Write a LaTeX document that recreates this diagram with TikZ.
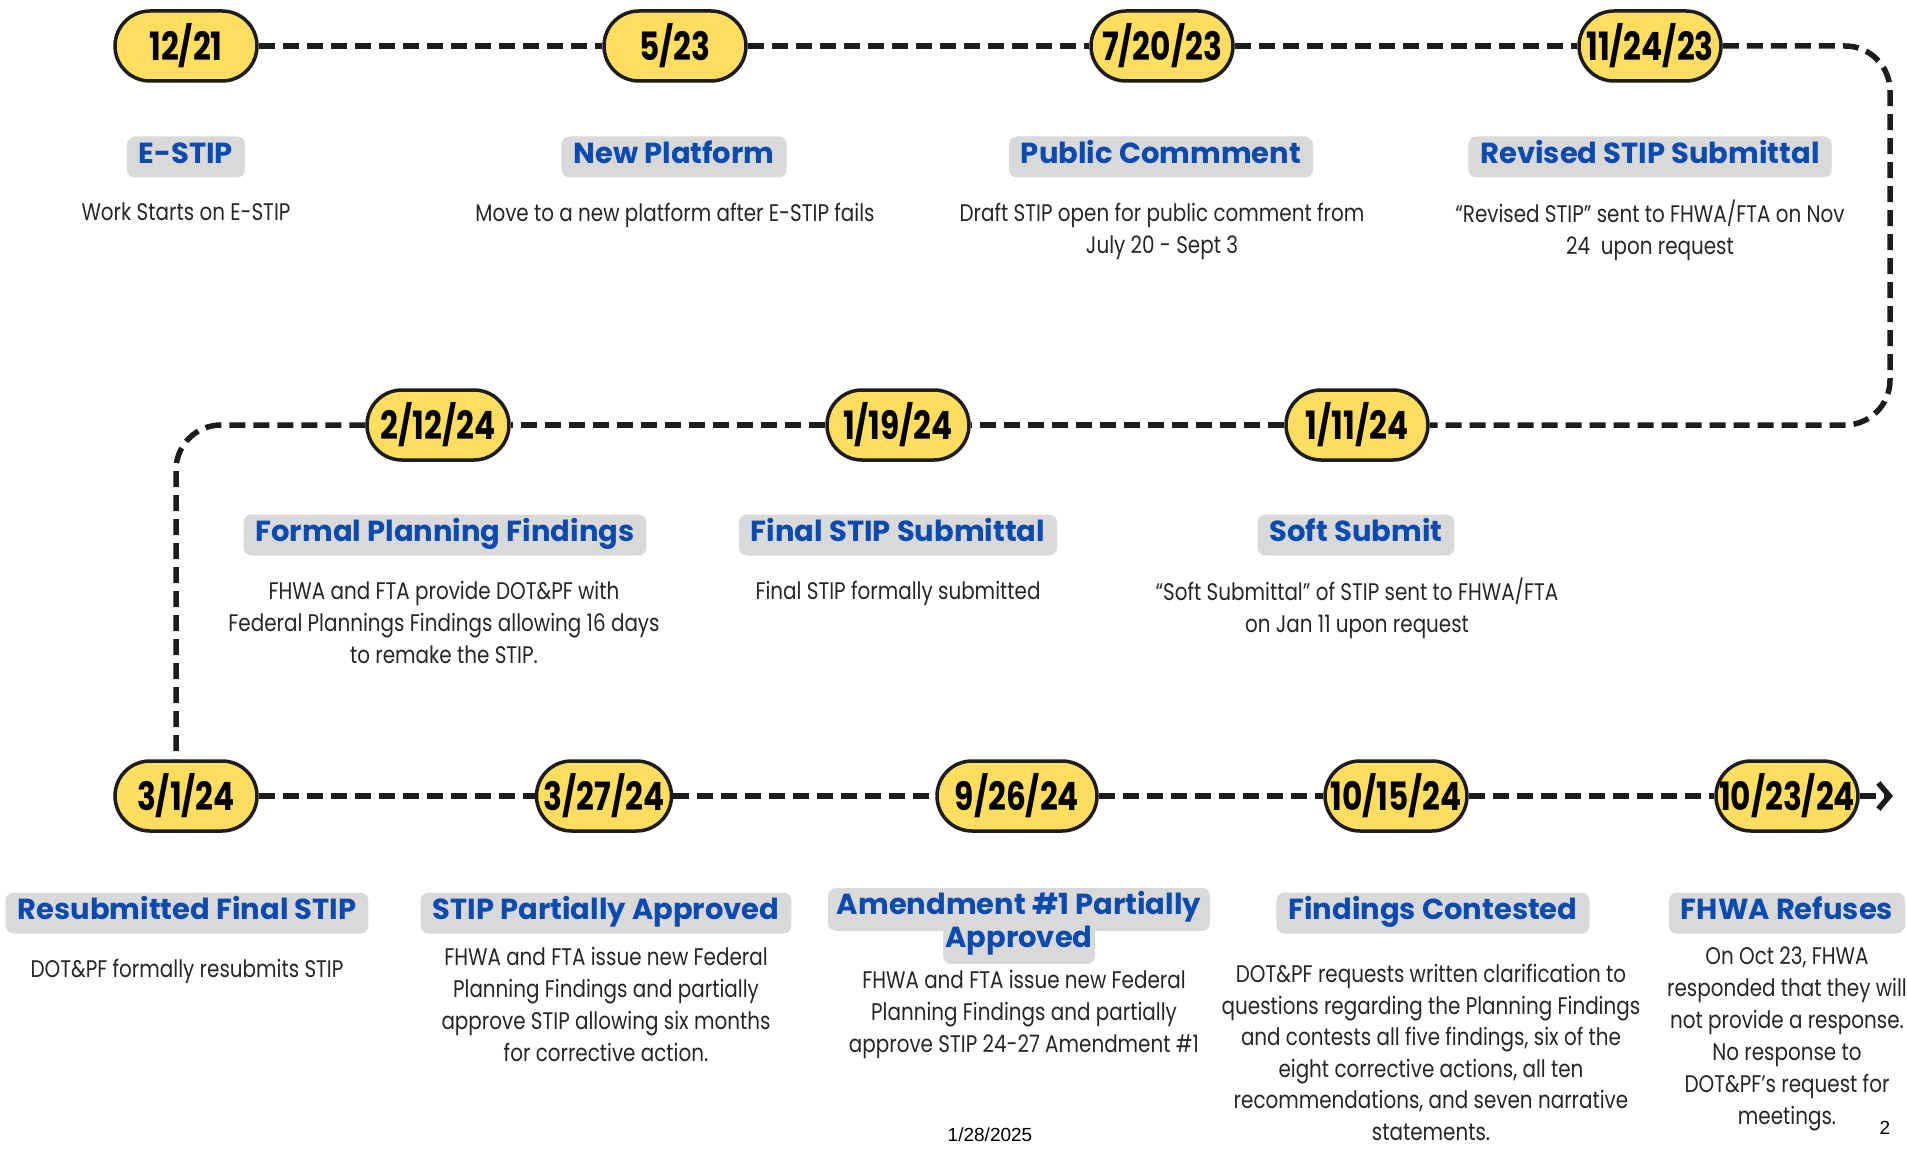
\documentclass[tikz,border=0pt]{standalone}
\usepackage{fontspec}
\usetikzlibrary{arrows.meta}
\newfontfamily\datefont[FakeStretch=0.8]{Poppins}
\newfontfamily\titlefont{Poppins}
\newfontfamily\bodyfont[FakeStretch=0.83]{Poppins}
\newfontfamily\footfont{Liberation Sans}
\definecolor{pillyellow}{HTML}{FFDD5E}
\definecolor{pillline}{HTML}{1C1C1C}
\definecolor{tagblue}{HTML}{0B4AAE}
\definecolor{taggray}{HTML}{D9D9D9}
\definecolor{bodytext}{HTML}{262626}
\tikzset{
  datepill/.style={draw=pillline, line width=3.5pt, fill=pillyellow,
    rounded corners=35pt, minimum width=142pt, minimum height=70pt,
    inner sep=0pt, text=black,
    font=\datefont\bfseries\fontsize{39}{42}\selectfont},
  tag/.style={fill=taggray, rounded corners=8pt, text=tagblue,
    font=\titlefont\bfseries\fontsize{29}{33}\selectfont,
    inner xsep=12pt, inner ysep=7pt, text height=20pt, text depth=7pt},
  desc/.style={anchor=north, align=center, text=bodytext, inner sep=0pt,
    font=\bodyfont\fontsize{24}{32}\selectfont},
  tline/.style={draw=pillline, line width=5.5pt, dash pattern=on 16pt off 8pt}
}
\begin{document}
\begin{tikzpicture}[x=1pt, y=-1pt]
\useasboundingbox[fill=white] (0,0) rectangle (1907,1150);

% date pills, row by row
\node[datepill] (d1) at (186,46) {12/21};
\node[datepill] (d2) at (675,46) {5/23};
\node[datepill] (d3) at (1162,46) {7/20/23};
\node[datepill] (d4) at (1650,46) {11/24/23};
\node[datepill] (d5) at (1357,425) {1/11/24};
\node[datepill] (d6) at (898,425) {1/19/24};
\node[datepill] (d7) at (438,425) {2/12/24};
\node[datepill] (d8) at (186,796) {3/1/24};
\node[datepill, minimum width=135pt] (d9) at (604,796) {3/27/24};
\node[datepill, minimum width=160pt] (d10) at (1017,796) {9/26/24};
\node[datepill] (d11) at (1396,796) {10/15/24};
\node[datepill] (d12) at (1787,796) {10/23/24};

% dashed timeline
\coordinate (rturn) at (1890,240);
\coordinate (tend) at (1893,796);
\draw[tline] (d1) -- (d2) -- (d3) -- (d4);
\draw[tline, rounded corners=45pt] (d4.east) -| (rturn) |- (d5.east);
\draw[tline] (d5) -- (d6) -- (d7);
\draw[tline, rounded corners=45pt] (d7.west) -| ([xshift=-10pt]d8.north);
\draw[tline] (d8) -- (d9) -- (d10) -- (d11) -- (d12);
\draw[tline, -{Straight Barb[length=11pt,width=26pt]}] (d12.east) -- (tend);

% event titles
\node[tag] (t1) at (186,157) {E-STIP};
\node[tag] (t2) at (674,157) {New Platform};
\node[tag] (t3) at (1161,157) {Public Commment};
\node[tag] (t4) at (1650,157) {Revised STIP Submittal};
\node[tag] (t5) at (1356,535) {Soft Submit};
\node[tag] (t6) at (898,535) {Final STIP Submittal};
\node[tag] (t7) at (445,535) {Formal Planning Findings};
\node[tag] (t8) at (187,913) {Resubmitted Final STIP};
\node[tag] (t9) at (606,913) {STIP Partially Approved};
\node[tag] (t11) at (1433,913) {Findings Contested};
\node[tag] (t12) at (1787,913) {FHWA Refuses};
% two-line title with a stepped grey backing
\coordinate (amendc) at (1019,925);
\fill[taggray, rounded corners=8pt] (amendc) +(-191,-37) rectangle +(191,6);
\fill[taggray, rounded corners=8pt] (amendc) +(-76,-4) rectangle +(76,39);
\node[tag, fill=none, align=center, text height=, text depth=,
  font=\titlefont\bfseries\fontsize{29}{33}\selectfont] (t10) at ([yshift=2pt]amendc)
  {Amendment \#1 Partially\\Approved};

% event descriptions
\node[desc] (e1) at (186,203) {Work Starts on E-STIP};
\node[desc] (e2) at (675,203) {Move to a new platform after E-STIP fails};
\node[desc] (e3) at (1162,203) {Draft STIP open for public comment from\\July 20 - Sept 3};
\node[desc] (e4) at (1650,200) {“Revised STIP” sent to FHWA/FTA on Nov\\24\ \ upon request};
\node[desc] (e5) at (1357,578) {“Soft Submittal” of STIP sent to FHWA/FTA\\on Jan 11 upon request};
\node[desc] (e6) at (898,581) {Final STIP formally submitted};
\node[desc] (e7) at (444,581) {FHWA and FTA provide DOT\&PF with\\Federal Plannings Findings allowing 16 days\\to remake the STIP.};
\node[desc] (e8) at (187,959) {DOT\&PF formally resubmits STIP};
\node[desc] (e9) at (606,947) {FHWA and FTA issue new Federal\\Planning Findings and partially\\approve STIP allowing six months\\for corrective action.};
\node[desc] (e10) at (1024,970) {FHWA and FTA issue new Federal\\Planning Findings and partially\\approve STIP 24-27 Amendment \#1};
\node[desc, font=\bodyfont\fontsize{24}{31.5}\selectfont] (e11) at (1431,964) {DOT\&PF requests written clarification to\\questions regarding the Planning Findings\\and contests all five findings, six of the\\eight corrective actions, all ten\\recommendations, and seven narrative\\statements.};
\node[desc] (e12) at (1787,947) {On Oct 23, FHWA\\responded that they will\\not provide a response.\\No response to\\DOT\&PF’s request for\\meetings.};

% footer
\node[font=\footfont\fontsize{19}{22}\selectfont, text=black] (foot) at (990,1135) {1/28/2025};
\node[font=\footfont\fontsize{19}{22}\selectfont, text=black] (pg) at (1885,1128) {2};
\end{tikzpicture}
\end{document}
